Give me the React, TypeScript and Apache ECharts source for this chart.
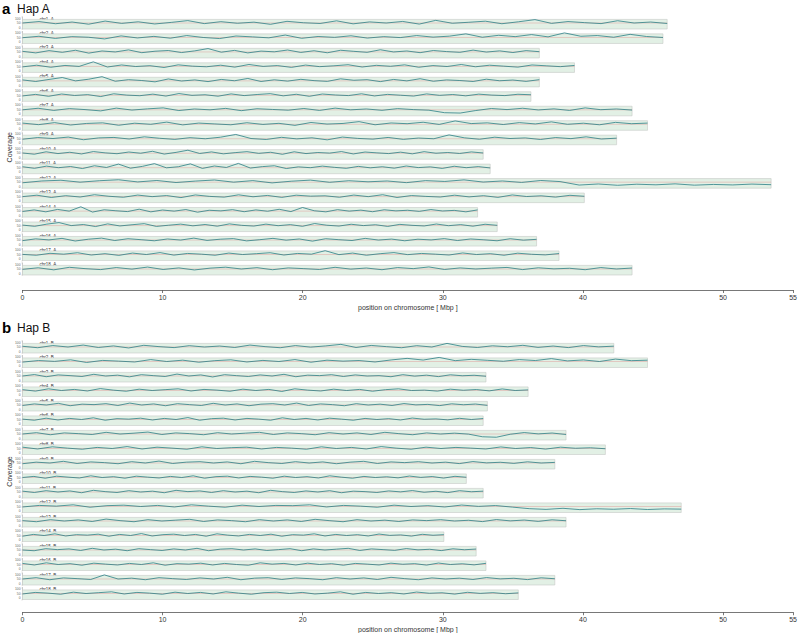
import React, { useEffect, useRef } from "react";
import * as echarts from "echarts";

// ---------- data ----------
const xTicks = [0, 10, 20, 30, 40, 50, 55];
const yTicks = [0, 50, 100];

const namesA = ["chr1_A","chr2_A","chr3_A","chr4_A","chr5_A","chr6_A","chr7_A","chr8_A","chr9_A","chr10_A","chr11_A","chr12_A","chr13_A","chr14_A","chr15_A","chr16_A","chr17_A","chr18_A"];
const namesB = ["chr1_B","chr2_B","chr3_B","chr4_B","chr5_B","chr6_B","chr7_B","chr8_B","chr9_B","chr10_B","chr11_B","chr12_B","chr13_B","chr14_B","chr15_B","chr16_B","chr17_B","chr18_B"];

// chromosome lengths (Mbp)
const lengthsA = [45.9, 45.6, 36.8, 39.3, 36.8, 36.2, 43.4, 44.5, 42.3, 32.8, 33.3, 53.3, 40.0, 32.4, 33.8, 36.6, 38.2, 43.4];
const lengthsB = [42.1, 44.5, 33.0, 36.0, 33.1, 32.8, 38.7, 41.5, 37.9, 31.6, 32.8, 46.9, 38.7, 30.0, 32.3, 33.0, 37.9, 35.3];

// coverage values (evenly spaced bins along each chromosome)
const covA1 = [50,62,44,58,40,66,47,60,42,55,70,45,61,48,57,39,64,52,46,68,43,59,50,63,41,72,48,56,65,44,60,78,47,62,53,45,69,50,58,46];
const covA2 = [48,60,42,57,52,38,63,46,59,44,66,50,41,62,55,47,70,43,58,51,64,45,57,49,66,53,61,80,52,68,57,74,55,88,60,66,52,76,58,50];
const covA3 = [55,42,61,47,64,40,58,50,67,44,56,62,45,59,78,48,63,42,57,51,66,46,60,43,64,55,47,68,50,58,44,62,53,47,65,49,59,45,61,52];
const covA4 = [46,60,43,58,50,88,45,62,49,56,41,63,52,47,60,44,66,50,57,42,61,48,55,64,45,59,51,63,43,57,49,66,47,60,52,44,62,55,48,58];
const covA5 = [58,45,62,78,50,64,85,47,60,53,42,66,49,58,44,62,51,70,45,59,48,63,52,46,67,55,60,44,62,50,68,47,58,53,45,64,51,57,46,60];
const covA6 = [45,58,42,61,49,56,40,63,52,47,60,44,65,50,55,43,62,48,57,64,46,59,42,61,53,48,63,45,58,51,44,62,50,57,46,60,52,48,59,55];
const covA7 = [50,63,45,60,52,41,64,48,58,66,44,57,50,62,43,59,53,47,61,45,64,50,57,46,60,52,47,26,23,44,61,52,63,49,58,45,66,51,57,48];
const covA8 = [60,47,64,44,57,62,42,59,50,68,45,60,53,46,63,49,58,41,65,52,57,72,46,61,55,67,49,78,56,62,48,64,53,70,50,59,46,66,55,60];
const covA9 = [46,60,52,64,42,57,61,48,66,54,45,59,50,63,86,52,44,62,49,58,41,64,53,47,61,45,56,50,82,58,46,63,52,57,44,60,51,66,48,55];
const covA10 = [52,42,62,47,58,44,64,53,46,60,50,66,43,57,75,48,61,45,55,63,49,58,41,62,47,56,51,64,44,60,53,47,59,45,63,50,56,48,61,52];
const covA11 = [58,45,63,50,60,43,66,52,80,46,61,84,49,58,82,44,64,52,86,47,59,66,43,57,50,63,53,45,61,49,58,46,64,51,57,44,62,50,59,48];
const covA12 = [45,60,66,50,62,70,52,64,47,59,68,50,63,44,58,67,49,62,53,60,46,63,56,69,51,60,48,64,55,26,35,24,33,28,36,25,31,27,34,29];
const covA13 = [50,62,43,58,47,66,53,45,63,50,59,42,64,52,46,65,49,60,44,62,54,57,45,63,50,66,43,59,52,47,62,48,58,44,64,51,57,46,61,53];
const covA14 = [47,60,44,64,50,86,42,61,53,46,66,44,59,50,63,41,57,52,62,45,60,49,65,46,80,53,44,62,50,58,45,61,52,57,48,63,51,56,44,60];
const covA15 = [54,44,62,75,50,59,42,64,47,57,66,43,53,62,48,59,45,64,52,46,62,49,58,44,67,53,46,61,50,57,43,60,52,47,63,49,58,45,61,52];
const covA16 = [45,60,51,64,42,57,66,46,61,53,44,59,50,66,47,57,62,43,53,64,49,59,41,61,53,46,64,50,58,44,57,51,62,46,59,52,44,61,49,56];
const covA17 = [51,44,60,53,65,46,57,43,62,50,66,45,59,53,44,62,50,57,65,46,59,53,82,49,62,44,57,66,49,59,53,46,63,50,57,44,61,52,47,58];
const covA18 = [47,60,43,64,53,45,62,49,66,46,59,42,57,65,50,61,44,59,53,46,64,49,58,44,62,53,67,46,59,50,57,63,45,60,51,56,44,62,50,58];

const covB1 = [56,44,62,50,66,46,59,42,64,53,45,61,50,58,46,66,53,44,62,49,59,72,46,63,53,44,61,50,80,55,46,60,52,64,47,58,45,62,51,57];
const covB2 = [45,58,51,64,42,59,53,46,66,50,61,44,57,64,46,59,50,66,44,61,53,58,46,63,76,62,84,57,68,60,52,66,58,74,55,63,50,70,57,61];
const covB3 = [50,62,44,59,53,46,64,50,57,43,61,53,46,66,50,59,42,61,53,46,59,50,64,44,57,53,61,46,59,50,53,44,61,49,57,45,60,52,56,48];
const covB4 = [57,45,64,50,59,46,66,53,44,61,50,57,64,46,59,53,44,61,50,59,42,64,53,46,61,50,59,44,57,64,50,53,45,61,52,58,47,63,50,55];
const covB5 = [46,59,50,64,44,57,53,61,46,66,50,59,44,61,53,46,64,50,59,44,57,61,50,66,46,59,53,44,61,50,57,46,62,51,55,45,60,52,58,47];
const covB6 = [53,44,61,46,59,50,64,44,57,53,61,46,59,50,66,44,57,61,46,59,53,44,64,50,59,46,61,53,44,59,50,57,46,62,52,55,47,60,50,58];
const covB7 = [50,61,44,59,53,46,64,50,57,66,46,59,53,44,61,50,57,64,46,59,53,44,61,50,59,46,64,53,44,59,50,57,49,27,23,48,62,51,58,46];
const covB8 = [61,46,64,53,44,59,50,66,46,61,53,44,64,50,57,61,46,59,53,44,64,50,59,46,66,53,44,61,50,59,53,46,63,50,58,45,61,52,56,48];
const covB9 = [44,57,50,64,46,59,53,44,61,50,66,46,57,61,50,59,44,64,53,46,61,50,59,44,57,64,46,59,53,61,50,57,45,62,51,56,47,60,50,55];
const covB10 = [50,59,44,61,53,46,64,50,57,44,61,53,46,59,50,64,44,57,61,46,59,53,44,61,50,57,46,64,53,44,59,50,56,47,62,51,58,45,60,52];
const covB11 = [57,46,61,50,59,44,64,53,46,61,50,57,44,64,53,59,46,61,50,57,44,64,53,46,59,50,61,44,57,53,46,59,51,62,48,56,45,61,52,57];
const covB12 = [46,59,53,64,44,57,61,50,59,46,64,53,44,61,50,59,57,64,46,59,53,44,61,50,57,46,62,51,58,45,32,26,35,24,31,27,33,25,30,28];
const covB13 = [53,44,61,50,59,46,66,53,44,61,50,57,64,46,59,53,44,61,50,59,46,64,53,44,61,50,57,46,59,53,61,50,56,45,62,51,58,47,60,52];
const covB14 = [44,59,50,64,46,57,53,61,44,59,50,66,46,57,61,50,59,44,64,53,46,59,50,61,44,57,53,64,46,59,50,57,46,62,51,55,45,60,52,57];
const covB15 = [50,44,61,53,59,46,64,50,57,44,61,53,46,59,50,64,44,57,61,50,59,46,53,61,44,59,50,57,64,46,59,53,47,62,51,56,45,60,52,58];
const covB16 = [59,46,64,50,57,44,61,53,46,59,50,64,44,57,53,61,46,59,50,44,64,53,59,46,61,50,57,44,59,53,46,61,52,57,45,62,50,56,47,60];
const covB17 = [50,61,44,59,53,46,84,50,57,44,61,53,46,59,50,64,44,57,61,46,59,53,44,61,50,59,46,64,53,44,59,50,57,46,62,51,56,45,60,52];
const covB18 = [46,59,53,44,61,50,57,64,46,59,53,44,61,50,59,46,64,53,44,57,61,50,59,46,53,64,44,59,50,57,46,62,52,56,45,60,51,57,48,55];

const covA = [covA1,covA2,covA3,covA4,covA5,covA6,covA7,covA8,covA9,covA10,covA11,covA12,covA13,covA14,covA15,covA16,covA17,covA18];
const covB = [covB1,covB2,covB3,covB4,covB5,covB6,covB7,covB8,covB9,covB10,covB11,covB12,covB13,covB14,covB15,covB16,covB17,covB18];

const expectedCov = 50;
const bandTop = 80;

// ---------- layout ----------
const LEFT = 22.5;
const RIGHT = 5;
const TRACK_H = 12;
const panels = [
  { names: namesA, lengths: lengthsA, covs: covA, top0: 17, pitch: 14.47, axisY: 289, letter: "a", title: "Hap A", titleY: 2 },
  { names: namesB, lengths: lengthsB, covs: covB, top0: 341, pitch: 14.5, axisY: 612, letter: "b", title: "Hap B", titleY: 321 },
];

function buildOption() {
  const grid: any[] = [];
  const xAxis: any[] = [];
  const yAxis: any[] = [];
  const series: any[] = [];
  const graphic: any[] = [];
  const FONT = "Liberation Sans, Arial, sans-serif";

  panels.forEach((p) => {
    p.names.forEach((name, i) => {
      const idx = grid.length;
      const top = p.top0 + i * p.pitch;
      const len = p.lengths[i];
      const vals = p.covs[i];
      grid.push({ left: LEFT, right: RIGHT, top, height: TRACK_H });
      xAxis.push({ gridIndex: idx, type: "value", min: 0, max: 55, show: false });
      yAxis.push({
        gridIndex: idx, type: "value", min: 0, max: 100, interval: 50,
        axisLine: { show: true, lineStyle: { color: "#999", width: 0.5 } },
        axisTick: { show: true, length: 1, lineStyle: { color: "#999", width: 0.4 } },
        axisLabel: {
          show: true, fontSize: 3.3, color: "#666", margin: 2, fontFamily: FONT,
          verticalAlignMinLabel: "bottom", verticalAlignMaxLabel: "top",
          formatter: (v: number) => (yTicks.includes(v) ? String(v) : ""),
        },
        splitLine: { show: false },
      });
      // band + expected coverage line
      series.push({
        type: "line", xAxisIndex: idx, yAxisIndex: idx,
        data: [[0, expectedCov], [len, expectedCov]],
        showSymbol: false, symbol: "none", silent: true, z: 1,
        lineStyle: { color: "#e06c6c", width: 0.5, opacity: 0.6 },
        markArea: {
          silent: true,
          itemStyle: { color: "#e2f0e5", borderColor: "#c6c9c6", borderWidth: 0.6 },
          data: [[{ coord: [0, 0] }, { coord: [len, bandTop] }]],
        },
      });
      // coverage
      const data = vals.map((v, k) => [(k * len) / (vals.length - 1), v]);
      series.push({
        type: "line", xAxisIndex: idx, yAxisIndex: idx, data, showSymbol: false, symbol: "none",
        lineStyle: { color: "#2a7f85", width: 0.8 }, silent: true, z: 3,
      });
      graphic.push({
        type: "text", left: LEFT + 17, top: top - 0.5,
        style: { text: name, fontSize: 4.5, fill: "#333", fontFamily: FONT },
      });
    });

    // bottom axis
    const aIdx = grid.length;
    grid.push({ left: LEFT, right: RIGHT, top: p.axisY, height: 1 });
    xAxis.push({
      gridIndex: aIdx, type: "value", min: 0, max: 55, position: "bottom",
      axisLine: { show: true, lineStyle: { color: "#555", width: 0.8 } },
      axisTick: { show: true, length: 3, lineStyle: { color: "#555", width: 0.8 }, customValues: xTicks },
      axisLabel: { show: true, fontSize: 7, color: "#333", margin: 4, fontFamily: FONT, customValues: xTicks },
      splitLine: { show: false },
      name: "position on chromosome [ Mbp ]", nameLocation: "middle", nameGap: 14,
      nameTextStyle: { fontSize: 7, color: "#333", fontFamily: FONT },
    });
    yAxis.push({ gridIndex: aIdx, type: "value", min: 0, max: 1, show: false });
    series.push({ type: "line", xAxisIndex: aIdx, yAxisIndex: aIdx, data: [], silent: true });

    // titles
    graphic.push({
      type: "text", left: 2, top: p.titleY - 1,
      style: { text: p.letter, fontSize: 15, fontWeight: "bold", fill: "#000", fontFamily: FONT },
    });
    graphic.push({
      type: "text", left: 17, top: p.titleY + 1,
      style: { text: p.title, fontSize: 12, fill: "#111", fontFamily: FONT },
    });
    const midY = p.top0 + (p.names.length * p.pitch) / 2;
    graphic.push({
      type: "text", x: 9, y: midY, rotation: Math.PI / 2,
      style: { text: "Coverage", fontSize: 7, fill: "#333", fontFamily: FONT, align: "center", verticalAlign: "middle" },
    });
  });

  return { animation: false, backgroundColor: "#fff", grid, xAxis, yAxis, series, graphic };
}

export default function App() {
  const ref = useRef<HTMLDivElement>(null);
  useEffect(() => {
    if (!ref.current) return;
    const chart = echarts.init(ref.current, undefined, { renderer: "svg" });
    chart.setOption(buildOption() as any);
    return () => chart.dispose();
  }, []);
  return <div ref={ref} style={{ position: "fixed", left: 0, top: 0, width: 800, height: 633 }} />;
}
